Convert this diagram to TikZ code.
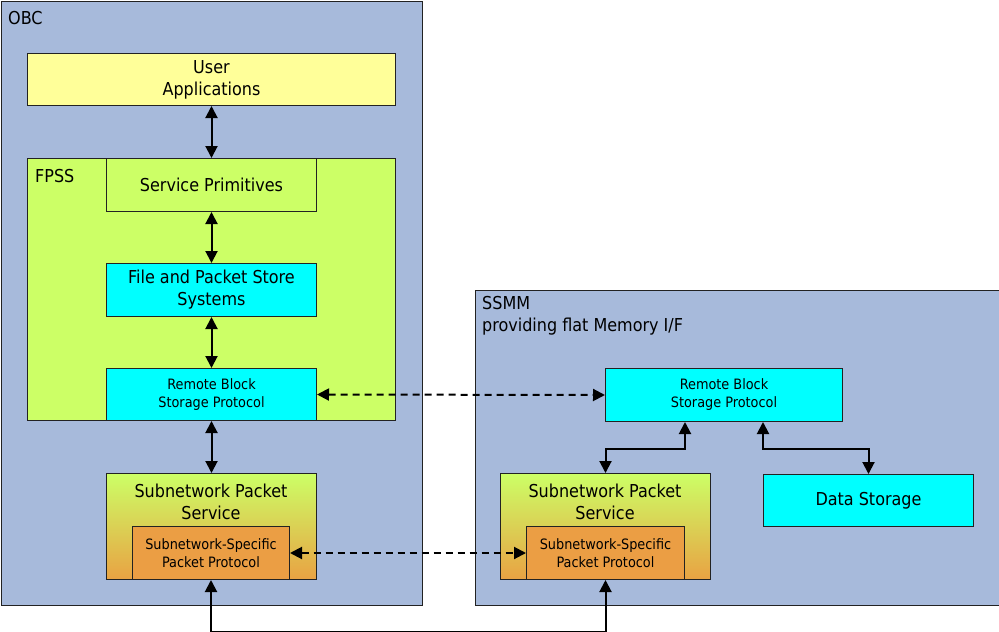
\documentclass[tikz,border=0pt]{standalone}
\usepackage{fontspec}
\setmainfont{DejaVu Sans Condensed}
\usetikzlibrary{arrows.meta}
\definecolor{bgblue}{HTML}{A7BADB}
\definecolor{uyellow}{HTML}{FFFF99}
\definecolor{fgreen}{HTML}{CCFF66}
\definecolor{cyanbox}{HTML}{00FFFF}
\definecolor{sorange}{HTML}{EB9E44}
\definecolor{gradtop}{HTML}{CCFF66}
\definecolor{gradbot}{HTML}{E9A243}
\definecolor{edge}{HTML}{222222}
\begin{document}
\begin{tikzpicture}[x=1pt,y=-1pt,
  box/.style={draw=edge, line width=1pt, anchor=north west, inner sep=0pt, align=center},
  big/.style={font=\fontsize{17.8}{22}\selectfont},
  small/.style={font=\fontsize{14.3}{18}\selectfont},
  biarrow/.style={line width=2pt, {Triangle[length=12pt,width=12pt]}-{Triangle[length=12pt,width=12pt]}},
  dsh/.style={dash pattern=on 7pt off 5pt}]
\useasboundingbox (0,0) rectangle (999,632);
% containers
\node[box, fill=bgblue, minimum width=421pt, minimum height=604pt] (obc) at (0.5,0.5) {};
\node[anchor=west, big, inner sep=0pt] (obcl) at (8,18) {OBC};
\node[box, fill=bgblue, minimum width=525pt, minimum height=315pt] (ssmm) at (474.5,290) {};
\node[anchor=north west, big, inner sep=0pt, align=left] (ssmml) at (482,296) {SSMM\\providing flat Memory I/F};
% OBC content
\node[box, fill=uyellow, big, minimum width=368pt, minimum height=52pt] (ua) at (27,53) {User\\Applications};
\node[box, fill=fgreen, minimum width=368pt, minimum height=262pt] (fpss) at (27,158) {};
\node[anchor=west, big, inner sep=0pt] (fpssl) at (35,176) {FPSS};
\node[box, fill=fgreen, big, minimum width=210pt, minimum height=53pt] (sp) at (106,158) {Service Primitives};
\node[box, fill=cyanbox, big, minimum width=210pt, minimum height=53pt] (fps) at (106,263) {File and Packet Store\\Systems};
\node[box, fill=cyanbox, small, minimum width=210pt, minimum height=52pt] (rbl) at (106,368) {Remote Block\\Storage Protocol};
\node[box, top color=gradtop, bottom color=gradbot, minimum width=210pt, minimum height=106pt] (spsl) at (106,473) {};
\node[big, align=center, inner sep=0pt] (spsll) at (211,502) {Subnetwork Packet\\Service};
\node[box, fill=sorange, small, minimum width=157pt, minimum height=53pt] (ssl) at (132,526) {Subnetwork-Specific\\Packet Protocol};
% SSMM content
\node[box, fill=cyanbox, small, minimum width=237pt, minimum height=53pt] (rbr) at (605,368) {Remote Block\\Storage Protocol};
\node[box, top color=gradtop, bottom color=gradbot, minimum width=210pt, minimum height=106pt] (spsr) at (500,473) {};
\node[big, align=center, inner sep=0pt] (spsrl) at (605,502) {Subnetwork Packet\\Service};
\node[box, fill=sorange, small, minimum width=158pt, minimum height=53pt] (ssr) at (526,526) {Subnetwork-Specific\\Packet Protocol};
\node[box, fill=cyanbox, big, minimum width=210pt, minimum height=52pt] (ds) at (763,474) {Data Storage};
% connectors
\draw[biarrow] (ua.south) -- (sp.north);
\draw[biarrow] (sp.south) -- (fps.north);
\draw[biarrow] (fps.south) -- (rbl.north);
\draw[biarrow] (rbl.south) -- (spsl.north);
\draw[biarrow, dsh] (rbl.east) -- (rbr.west);
\draw[biarrow, dsh] (ssl.east) -- (ssr.west);
\draw[biarrow] (ssl.south) -- ++(0,52) -| (ssr.south);
\draw[biarrow] ([xshift=80pt]rbr.south west) -- ++(0,27) -| (spsr.north);
\draw[biarrow] ([xshift=158pt]rbr.south west) -- ++(0,27) -| (ds.north);
\end{tikzpicture}
\end{document}
